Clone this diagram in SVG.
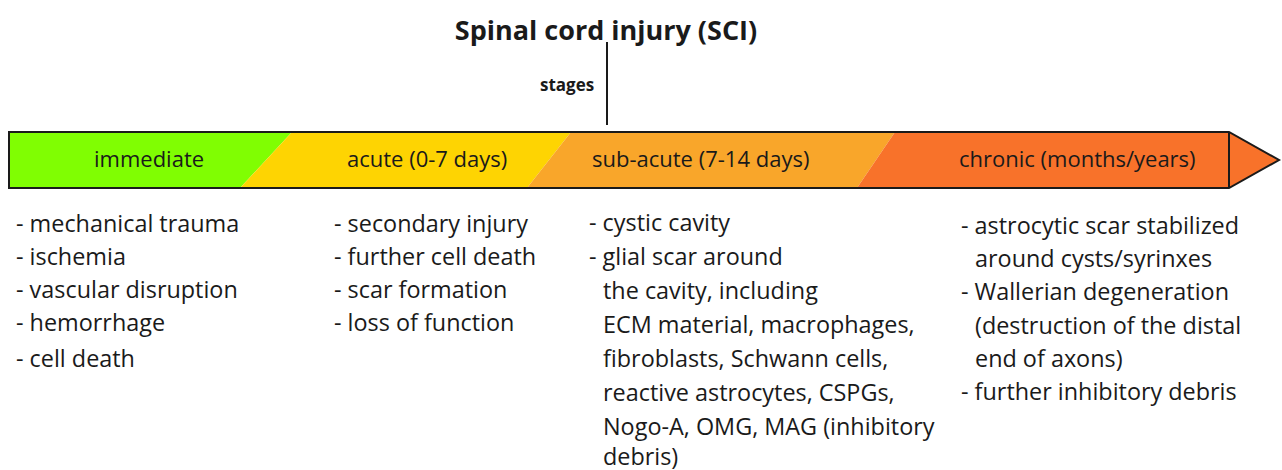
<svg xmlns="http://www.w3.org/2000/svg" width="1282" height="470" viewBox="0 0 1282 470">
<style>
text{font-family:"Open Sans","Liberation Sans",sans-serif;fill:#1a1a1a}
.title{font-size:27px;font-weight:bold;text-anchor:middle}
.stg{font-size:17px;font-weight:bold}
.lbl{font-size:22px}
.li{font-size:23.4px}
.edge{stroke:#1a1a1a;stroke-width:2;fill:none}
</style>
<rect width="1282" height="470" fill="#ffffff"/>
<g id="title">
<text class="title" x="606" y="40">Spinal cord injury (SCI)</text>
</g>
<g id="connectors">
<line class="edge" x1="607" y1="42" x2="607" y2="125" stroke-width="1.5"/>
</g>
<g id="stages-label">
<text class="stg" x="540" y="91">stages</text>
</g>
<g id="timeline">
<polygon points="9,132 292,132 240,188 9,188" fill="#80fe02"/>
<polygon points="292,132 571,132 527,188 240,188" fill="#fed402"/>
<polygon points="571,132 895,132 857,188 527,188" fill="#f9a62a"/>
<polygon points="895,132 1229,132 1229,188 857,188" fill="#f8722a"/>
<polygon points="1229,132 1279,160 1229,188" fill="#f8722a"/>
<path class="edge" d="M9,132 H1229 L1279,160 L1229,188 H9 Z"/>
<line class="edge" x1="1229" y1="132" x2="1229" y2="188"/>
</g>
<g id="stage-immediate">
<text class="lbl" x="94" y="167">immediate</text>
<text class="li" x="16" y="232">- mechanical trauma</text>
<text class="li" x="16" y="265">- ischemia</text>
<text class="li" x="16" y="298">- vascular disruption</text>
<text class="li" x="16" y="331">- hemorrhage</text>
<text class="li" x="16" y="367">- cell death</text>
</g>
<g id="stage-acute">
<text class="lbl" x="347" y="167">acute (0-7 days)</text>
<text class="li" x="334" y="232">- secondary injury</text>
<text class="li" x="334" y="265">- further cell death</text>
<text class="li" x="334" y="298">- scar formation</text>
<text class="li" x="334" y="331">- loss of function</text>
</g>
<g id="stage-subacute">
<text class="lbl" x="592" y="167">sub-acute (7-14 days)</text>
<text class="li" x="589" y="231">- cystic cavity</text>
<text class="li" x="589" y="265">- glial scar around</text>
<text class="li" x="603" y="299">the cavity, including</text>
<text class="li" x="603" y="333">ECM material, macrophages,</text>
<text class="li" x="603" y="367">fibroblasts, Schwann cells,</text>
<text class="li" x="603" y="401">reactive astrocytes, CSPGs,</text>
<text class="li" x="603" y="435">Nogo-A, OMG, MAG (inhibitory</text>
<text class="li" x="603" y="465">debris)</text>
</g>
<g id="stage-chronic">
<text class="lbl" x="959" y="167">chronic (months/years)</text>
<text class="li" x="961" y="234">- astrocytic scar stabilized</text>
<text class="li" x="975" y="267">around cysts/syrinxes</text>
<text class="li" x="961" y="300">- Wallerian degeneration</text>
<text class="li" x="975" y="334">(destruction of the distal</text>
<text class="li" x="975" y="367">end of axons)</text>
<text class="li" x="961" y="400">- further inhibitory debris</text>
</g>
</svg>
